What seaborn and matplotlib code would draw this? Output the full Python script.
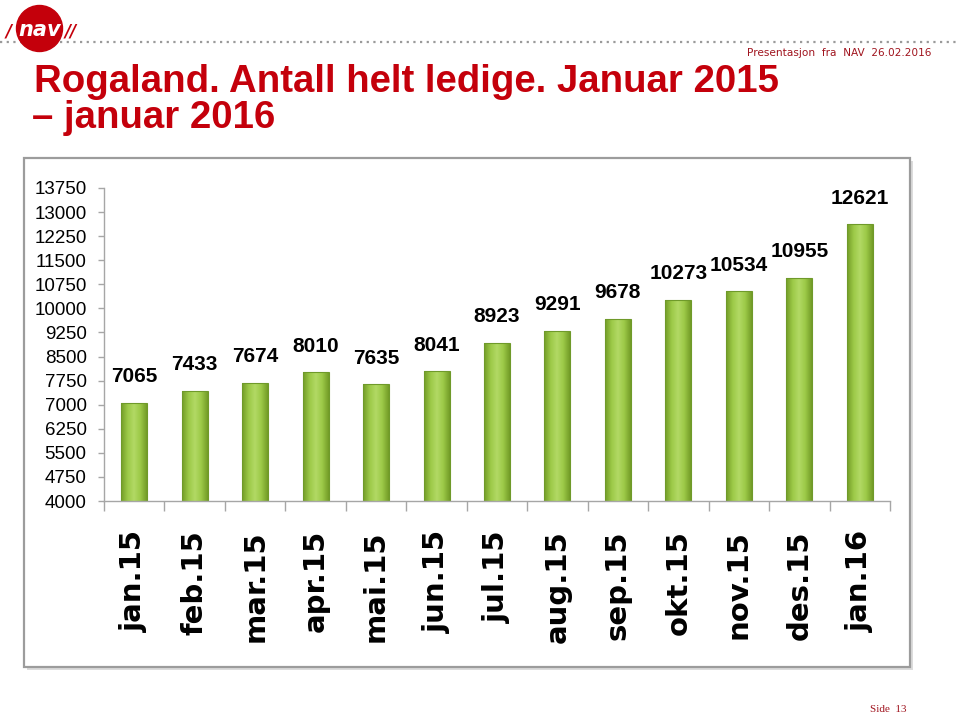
import numpy as np
import pandas as pd
import matplotlib
matplotlib.use("Agg")
import matplotlib.pyplot as plt
import seaborn as sns
from matplotlib.colors import LinearSegmentedColormap
from matplotlib.patches import Rectangle, Circle

# ---- data ----
months = ["jan.15", "feb.15", "mar.15", "apr.15", "mai.15", "jun.15", "jul.15",
          "aug.15", "sep.15", "okt.15", "nov.15", "des.15", "jan.16"]
values = [7065, 7433, 7674, 8010, 7635, 8041, 8923, 9291, 9678, 10273, 10534, 10955, 12621]
yticks = [4000, 4750, 5500, 6250, 7000, 7750, 8500, 9250, 10000, 10750,
          11500, 12250, 13000, 13750]
title_line1 = "Rogaland. Antall helt ledige. Januar 2015"
title_line2 = "– januar 2016"
header_text = "Presentasjon  fra  NAV  26.02.2016"
footer_text = "Side  13"

df = pd.DataFrame({"month": months, "value": values})

sns.set_theme(style="white")
plt.rcParams["font.family"] = ["DejaVu Sans"]
NARROW = ["Liberation Sans", "DejaVu Sans"]

W, H = 960, 717
fig = plt.figure(figsize=(W / 100, H / 100), dpi=100)

# background / decoration axes in pixel coordinates
bg = fig.add_axes([0, 0, 1, 1])
bg.set_xlim(0, W)
bg.set_ylim(H, 0)
bg.axis("off")
bg.set_zorder(0)

red = "#c4000b"
bg.plot([0, W], [42, 42], linestyle=(0, (1, 2)), color="#9a9a9a", lw=1.6)
bg.add_patch(Circle((39.5, 28.5), 23, color=red, zorder=3))
bg.text(39.5, 30, "nav", color="white", fontsize=15, fontweight="bold",
        style="italic", ha="center", va="center", zorder=4)
bg.text(9, 31, "/", color=red, fontsize=12, fontweight="bold", style="italic",
        ha="center", va="center", zorder=4)
bg.text(71, 31, "//", color=red, fontsize=12, fontweight="bold", style="italic",
        ha="center", va="center", zorder=4)

bg.text(34, 92, title_line1, color=red, fontsize=27.6, fontweight="bold",
        family=["Liberation Sans", "DejaVu Sans"], ha="left", va="baseline")
bg.text(32, 128, title_line2, color=red, fontsize=27.6, fontweight="bold",
        family=["Liberation Sans", "DejaVu Sans"], ha="left", va="baseline")
bg.text(931, 53, header_text, color="#a0141e", fontsize=7.6,
        ha="right", va="center")
bg.text(906, 709, footer_text, color="#a0141e", fontsize=8,
        family=["Liberation Serif", "DejaVu Serif"], ha="right", va="center")

# chart box with shadow
bg.add_patch(Rectangle((27, 161), 886, 509, facecolor="#dcdcdc", edgecolor="none", zorder=1))
bg.add_patch(Rectangle((24, 158), 886, 509, facecolor="white", edgecolor="#9c9c9c",
                       lw=1.6, zorder=2))

# ---- chart axes ----
ax = fig.add_axes([104 / W, 216 / H, 786 / W, 313 / H])
ax.set_zorder(1)
ax.patch.set_alpha(0)

sns.barplot(data=df, x="month", y="value", order=months, color="#92c13e",
            saturation=1, width=0.43, edgecolor="#6f9a2a", linewidth=0.8, ax=ax)

ymin, ymax = yticks[0], yticks[-1]
cmap = LinearSegmentedColormap.from_list(
    "bargrad", ["#739c27", "#9cc947", "#b2d965", "#9cc947", "#739c27"])
grad = np.linspace(0, 1, 64).reshape(1, -1)
for p in list(ax.patches):
    x0, y0 = p.get_x(), p.get_y()
    w, h = p.get_width(), p.get_height()
    im = ax.imshow(grad, extent=[x0, x0 + w, max(y0, ymin), y0 + h], aspect="auto",
                   cmap=cmap, zorder=0.9, origin="lower")
    im.set_clip_path(p)
    p.set_facecolor("none")

ax.set_xlim(-0.5, len(months) - 0.5)
ax.set_ylim(ymin, ymax)

for i, v in enumerate(values):
    ax.annotate(f"{v}", (i, v), xytext=(0, 12), textcoords="offset points",
                ha="center", va="bottom", fontsize=15, fontweight="bold",
                family=NARROW, color="black", annotation_clip=False)

for s in ["top", "right"]:
    ax.spines[s].set_visible(False)
for s in ["left", "bottom"]:
    ax.spines[s].set_color("#a6a6a6")
    ax.spines[s].set_linewidth(1.0)

ax.set_yticks(yticks)
ax.set_yticklabels([str(t) for t in yticks], family=NARROW, fontsize=13.5, color="black")
ax.tick_params(axis="y", which="major", left=True, length=4.5, color="#a6a6a6",
               width=1.0, pad=8)

ax.set_xticks(range(len(months)))
ax.set_xticklabels(months, rotation=90, fontsize=21, fontweight="bold",
                   family=["DejaVu Sans"], color="black", va="top", ha="center")
ax.tick_params(axis="x", which="major", bottom=False, length=0, pad=21)
ax.set_xticks(np.arange(-0.5, len(months), 1.0), minor=True)
ax.tick_params(axis="x", which="minor", bottom=True, length=7.5, color="#a6a6a6",
               width=1.0, direction="out")

ax.set_xlabel("")
ax.set_ylabel("")
ax.grid(False)

fig.savefig("out.png", dpi=100)
